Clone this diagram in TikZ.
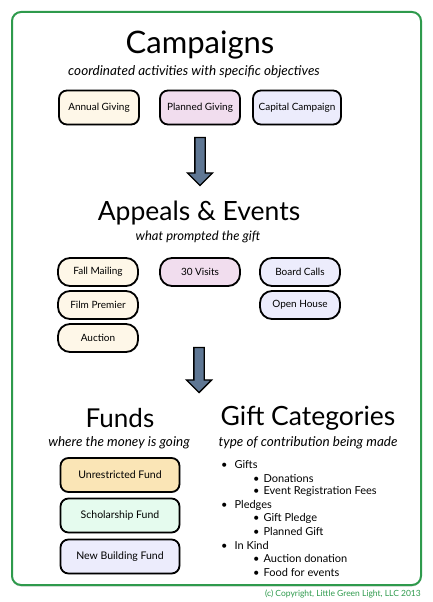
\documentclass[tikz,border=0pt]{standalone}
\usepackage{fontspec}
\setmainfont{Lato}
\usetikzlibrary{shapes.arrows,shadows}
\definecolor{framegreen}{HTML}{2E9A4C}
\definecolor{cream}{HTML}{FEF7E8}
\definecolor{pinkish}{HTML}{F1DDEE}
\definecolor{lavender}{HTML}{ECECFC}
\definecolor{tan}{HTML}{FAE5B6}
\definecolor{mint}{HTML}{E5FBEE}
\definecolor{slate}{HTML}{5F7794}

\begin{document}
\begin{tikzpicture}
  [x=1pt, y=-1pt,
   title/.style={font=\fontsize{31}{34}\selectfont, inner sep=0pt},
   subtitle/.style={font=\fontsize{13.5}{15}\selectfont\itshape, inner sep=0pt},
   box/.style={draw=black, line width=1.8pt, rounded corners=8pt, minimum height=34pt,
               font=\fontsize{10}{12}\selectfont, drop shadow={shadow xshift=0.8pt, shadow yshift=-0.8pt, opacity=0.35}},
   pill/.style={box, rounded corners=12pt, minimum height=28pt, minimum width=80pt},
   blockarrow/.style={single arrow, draw=black, line width=1.3pt, fill=slate, shape border rotate=270,
                      inner sep=4.5pt, single arrow head extend=7.5pt, single arrow tip angle=90},
   item/.style={font=\fontsize{11}{13}\selectfont, anchor=west, inner sep=0pt}]
  \useasboundingbox (0,0) rectangle (432,602);
  % frame
  \draw[framegreen, line width=2pt, rounded corners=9pt, fill=white,
        drop shadow={shadow xshift=0pt, shadow yshift=-1.5pt, opacity=0.3}] (12,12) rectangle (421,585);

  % campaigns
  \node[title] (camp) at (200,45) {Campaigns};
  \node[subtitle] (campsub) at (194,72) {coordinated activities with specific objectives};
  \node[box, fill=cream, minimum width=80pt] (annual) at (99,107.5) {Annual Giving};
  \node[box, fill=pinkish, minimum width=80pt] (planned) at (200,107.5) {Planned Giving};
  \node[box, fill=lavender, minimum width=88pt] (capital) at (297,107.5) {Capital Campaign};

  \node[blockarrow, minimum height=48pt] (arrowA) at (200,159) {};

  % appeals
  \node[title, font=\fontsize{26.5}{30}\selectfont] (appeals) at (199,213) {Appeals \& Events};
  \node[subtitle, font=\fontsize{13}{15}\selectfont\itshape] (appsub) at (198,237) {what prompted the gift};
  \node[pill, fill=cream] (fall) at (98,272) {Fall Mailing};
  \node[pill, fill=cream] (film) at (98,305) {Film Premier};
  \node[pill, fill=cream] (auction) at (98,338) {Auction};
  \node[pill, fill=pinkish] (visits) at (200,272) {30 Visits};
  \node[pill, fill=lavender] (board) at (300,272) {Board Calls};
  \node[pill, fill=lavender] (open) at (300,305) {Open House};

  \node[blockarrow, minimum height=45pt] (arrowB) at (199,367.5) {};

  % funds
  \node[title, font=\fontsize{26}{30}\selectfont] (funds) at (120,418) {Funds};
  \node[subtitle] (fundsub) at (119,443) {where the money is going};
  \node[box, fill=tan, minimum width=119pt, font=\fontsize{10.5}{12}\selectfont] (unres) at (120,475) {Unrestricted Fund};
  \node[box, fill=mint, minimum width=119pt, font=\fontsize{10.5}{12}\selectfont] (scholar) at (120,515.5) {Scholarship Fund};
  \node[box, fill=lavender, minimum width=119pt, font=\fontsize{10.5}{12}\selectfont] (building) at (120,556.5) {New Building Fund};

  % gift categories
  \node[title, font=\fontsize{26.5}{30}\selectfont] (gifts) at (308,418) {Gift Categories};
  \node[subtitle] (giftsub) at (308,443) {type of contribution being made};
  \foreach \txt/\lvl [count=\i] in {Gifts/0, Donations/1, Event Registration Fees/1,
                                    Pledges/0, Gift Pledge/1, Planned Gift/1,
                                    In Kind/0, Auction donation/1, Food for events/1}
    \node[item] (cat\i) at (221+32*\lvl,451.5+13.4*\i)
      {\textbullet\hspace{\ifnum\lvl=0 7pt\else 4pt\fi}\txt};

  \node[font=\fontsize{8.5}{10}\selectfont, text=framegreen, anchor=east, inner sep=0pt] (copy) at (421,594)
    {(c) Copyright, Little Green Light, LLC 2013};
\end{tikzpicture}
\end{document}
